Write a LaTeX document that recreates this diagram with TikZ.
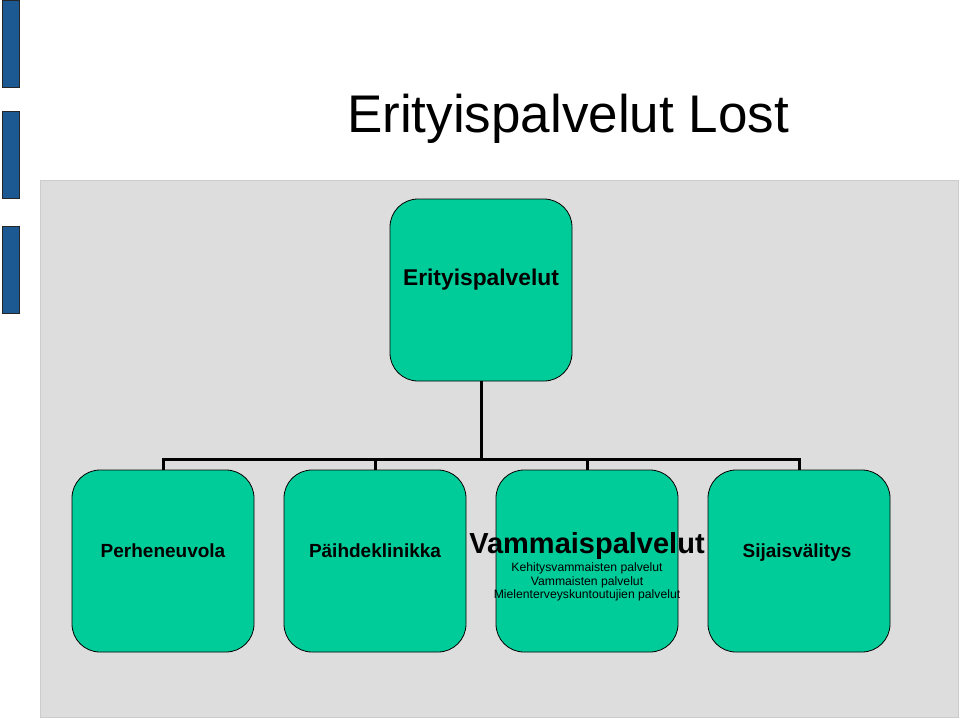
\documentclass[tikz,border=0pt]{standalone}
\usepackage{fontspec}
\setmainfont{Liberation Sans}
\usetikzlibrary{positioning}
\definecolor{boxgreen}{RGB}{0,204,153}
\definecolor{barblue}{RGB}{28,88,145}
\definecolor{panelgray}{RGB}{221,221,221}
\tikzset{
	orgbox/.style = {rectangle, rounded corners=28pt, draw=black, line width=0.8pt,
		fill=boxgreen, minimum width=182pt, minimum height=182pt, inner sep=0pt},
	boxlabel/.style = {font=\bfseries\fontsize{19}{22}\selectfont, inner sep=0pt, anchor=base},
	orgline/.style = {line width=3pt, black}
}

\begin{document}
\begin{tikzpicture}[x=1pt, y=-1pt]
\useasboundingbox (0,0) rectangle (960,718);
%----------------------------------------------------------------------------
% Side bars and background panel
\foreach \top in {0,111,226}
	\draw[fill=barblue, draw=black!85, line width=0.9pt] (2,\top) rectangle (19,\top+87);
\draw[fill=panelgray, draw=black!20, line width=1pt] (40,180) rectangle (958,717);

\node (title) [anchor=base, inner sep=0pt, font=\fontsize{53}{60}\selectfont] at (568,132) {Erityispalvelut Lost};

%----------------------------------------------------------------------------
% Placement of boxes
\node (erity) [orgbox] at (481,290) {};
\node (perhe) [orgbox] at (163,561) {};
\node (paihde) [orgbox] at (375,561) {};
\node (vamma) [orgbox] at (587,561) {};
\node (sijais) [orgbox] at (799,561) {};

%----------------------------------------------------------------------------
% Lines
\coordinate (bus) at (481,459);
\draw [orgline] (erity.south) -- (bus);
\foreach \n in {perhe,paihde,vamma,sijais}
	\draw [orgline] (bus) -| (\n.north);

%----------------------------------------------------------------------------
% Labels
\node (erityText) [boxlabel, font=\bfseries\fontsize{22.8}{26}\selectfont] at (481,285) {Erityispalvelut};
\node (perheText) [boxlabel] at (163,557) {Perheneuvola};
\node (paihdeText) [boxlabel] at (375,557) {Päihdeklinikka};
\node (sijaisText) [boxlabel] at (797,557) {Sijaisvälitys};
\node (vammaText) [boxlabel, font=\bfseries\fontsize{29}{32}\selectfont] at (587,553) {Vammaispalvelut};
\node (vammaSub) [below=3.5pt of vammaText, inner sep=0pt, align=center,
	font=\fontsize{12.2}{13.6}\selectfont]
	{Kehitysvammaisten palvelut\\Vammaisten palvelut\\Mielenterveyskuntoutujien palvelut};
\end{tikzpicture}
\end{document}
